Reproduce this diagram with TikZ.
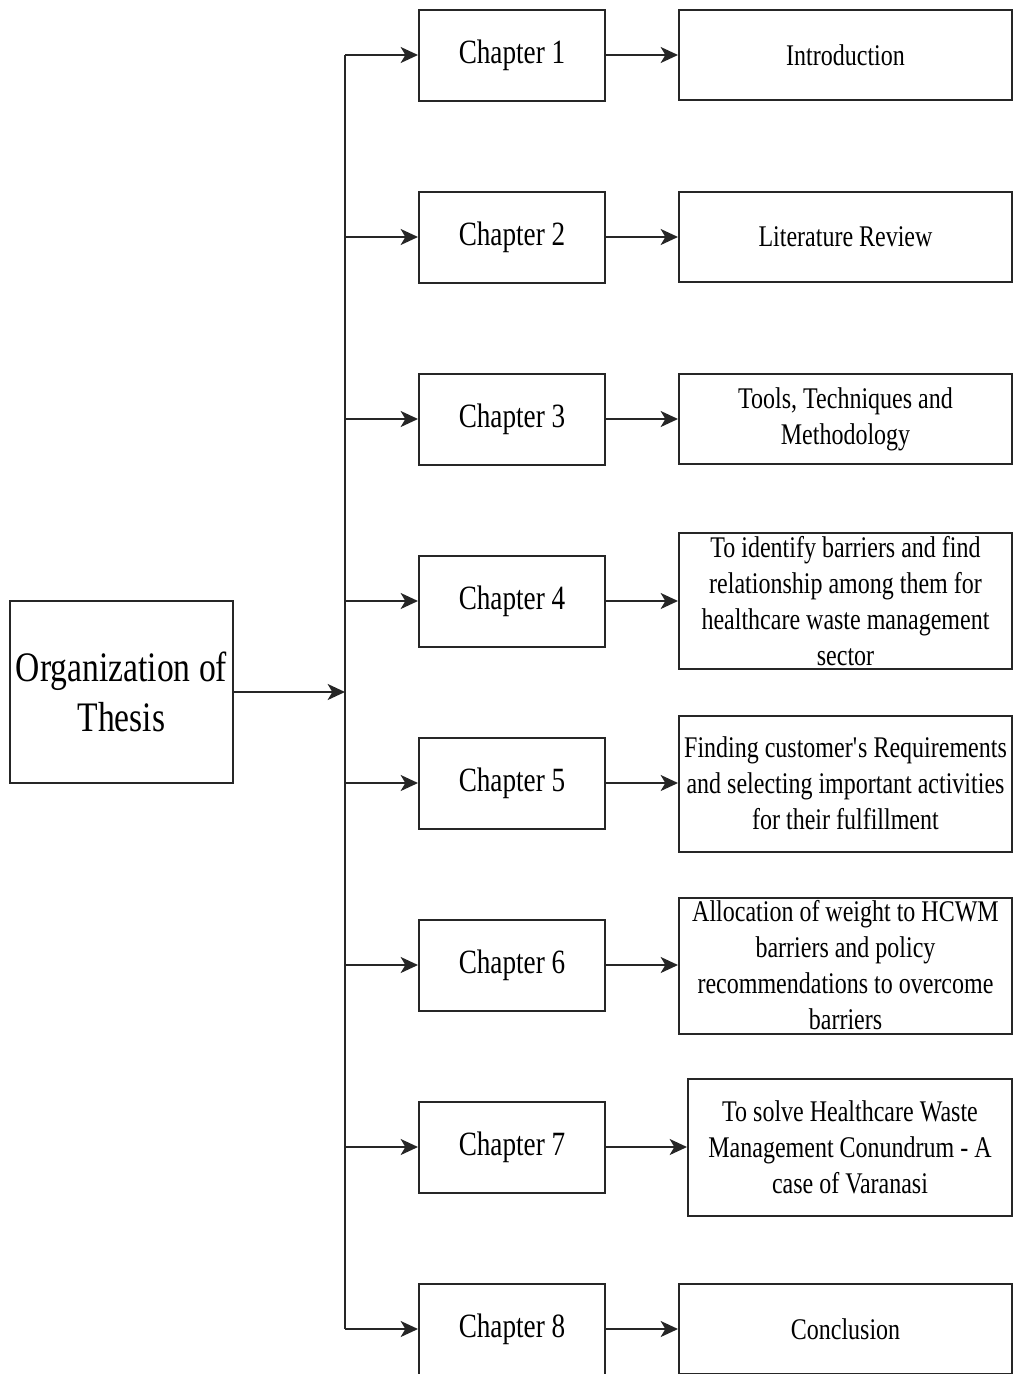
\documentclass[tikz,border=0pt]{standalone}
\usepackage{fontspec}
\setmainfont{Liberation Serif}[FakeStretch=0.8]
\usetikzlibrary{arrows.meta}

\begin{document}
\begin{tikzpicture}[x=0.75pt,y=-0.75pt,
		box/.style={draw=black!85,line width=1.5pt,fill=white,inner sep=2pt,align=center},
		chapbox/.style={box,minimum width=139.5pt,minimum height=68.25pt,font=\fontsize{25.5}{30}\selectfont},
		topicbox/.style={box,minimum width=249.75pt,minimum height=67.5pt,font=\fontsize{22.5}{27}\selectfont},
		tallbox/.style={topicbox,minimum height=102pt},
		link/.style={draw=black!85,line width=1.5pt},
		arr/.style={link,-{Stealth[length=13pt,width=12pt,inset=3.5pt]}}]
		\useasboundingbox (0,0) rectangle (1013,1374);
		% main box
		\node [box,minimum width=167.25pt,minimum height=136.5pt,font=\fontsize{31.5}{37.5}\selectfont] (org) at (121.5,692) {Organization of\\Thesis};
		% chapters
		\foreach \i in {1,...,8}
			\node [chapbox] (ch\i) at (512,{55+182*(\i-1)}) {Chapter \i};
		% topics
		\node [topicbox] (t1) at (845.5,55) {Introduction};
		\node [topicbox] (t2) at (845.5,237) {Literature Review};
		\node [topicbox] (t3) at (845.5,419) {Tools, Techniques and\\Methodology};
		\node [tallbox] (t4) at (845.5,601) {To identify barriers and find\\relationship among them for\\healthcare waste management\\sector};
		\node [tallbox] (t5) at (845.5,783.5) {Finding customer\textquotesingle s Requirements\\and selecting important activities\\for their fulfillment};
		\node [tallbox] (t6) at (845.5,965.5) {Allocation of weight to HCWM\\barriers and policy\\recommendations to overcome\\barriers};
		\node [tallbox,minimum width=243pt,minimum height=102.75pt] (t7) at (850,1147.5) {To solve Healthcare Waste\\Management Conundrum - A\\case of Varanasi};
		\node [topicbox] (t8) at (845.5,1329) {Conclusion};
		% trunk
		\coordinate (trunktop) at (345,55);
		\coordinate (trunkbot) at (345,1329);
		\draw [link] (trunktop) -- (trunkbot);
		\draw [arr] (org.east) -- (org.east -| trunktop);
		\foreach \i in {1,...,8} {
			\draw [arr] (ch\i.west -| trunktop) -- (ch\i.west);
			\draw [arr] (ch\i.east) -- (ch\i.east -| t\i.west);
		}
	\end{tikzpicture}
\end{document}
